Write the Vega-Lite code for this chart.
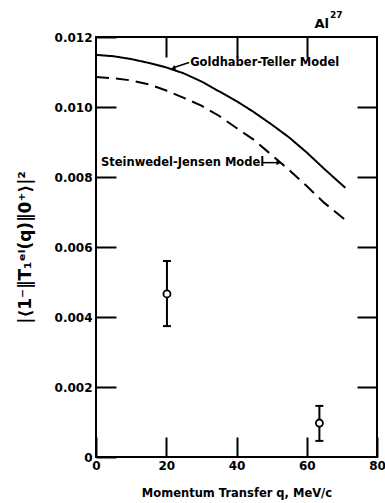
{
  "$schema": "https://vega.github.io/schema/vega-lite/v6.json",
  "width": 281,
  "height": 420,
  "autosize": "none",
  "padding": {"left": 96, "top": 37, "right": 8, "bottom": 46},
  "background": "white",
  "config": {
    "view": {"stroke": "black", "strokeWidth": 2},
    "font": "DejaVu Sans",
    "axis": {"grid": false, "domain": false}
  },
  "datasets": {
    "curves": [
      {"series": "Goldhaber-Teller Model", "q": 0, "v": 0.01149},
      {"series": "Goldhaber-Teller Model", "q": 5, "v": 0.01145},
      {"series": "Goldhaber-Teller Model", "q": 10, "v": 0.01137},
      {"series": "Goldhaber-Teller Model", "q": 15, "v": 0.01126},
      {"series": "Goldhaber-Teller Model", "q": 20, "v": 0.01113},
      {"series": "Goldhaber-Teller Model", "q": 25, "v": 0.01096},
      {"series": "Goldhaber-Teller Model", "q": 30, "v": 0.01073},
      {"series": "Goldhaber-Teller Model", "q": 35, "v": 0.01045},
      {"series": "Goldhaber-Teller Model", "q": 40, "v": 0.01017},
      {"series": "Goldhaber-Teller Model", "q": 45, "v": 0.00985},
      {"series": "Goldhaber-Teller Model", "q": 50, "v": 0.0095},
      {"series": "Goldhaber-Teller Model", "q": 55, "v": 0.00913},
      {"series": "Goldhaber-Teller Model", "q": 60, "v": 0.0087},
      {"series": "Goldhaber-Teller Model", "q": 65, "v": 0.00823},
      {"series": "Goldhaber-Teller Model", "q": 71, "v": 0.00769},
      {"series": "Steinwedel-Jensen Model", "q": 0, "v": 0.01086},
      {"series": "Steinwedel-Jensen Model", "q": 5, "v": 0.01082},
      {"series": "Steinwedel-Jensen Model", "q": 10, "v": 0.01076},
      {"series": "Steinwedel-Jensen Model", "q": 15, "v": 0.01065},
      {"series": "Steinwedel-Jensen Model", "q": 20, "v": 0.01047},
      {"series": "Steinwedel-Jensen Model", "q": 25, "v": 0.01026},
      {"series": "Steinwedel-Jensen Model", "q": 30, "v": 0.01004},
      {"series": "Steinwedel-Jensen Model", "q": 35, "v": 0.00975},
      {"series": "Steinwedel-Jensen Model", "q": 40, "v": 0.0094},
      {"series": "Steinwedel-Jensen Model", "q": 45, "v": 0.00906},
      {"series": "Steinwedel-Jensen Model", "q": 50, "v": 0.00863},
      {"series": "Steinwedel-Jensen Model", "q": 55, "v": 0.0082},
      {"series": "Steinwedel-Jensen Model", "q": 60, "v": 0.00774},
      {"series": "Steinwedel-Jensen Model", "q": 65, "v": 0.00726},
      {"series": "Steinwedel-Jensen Model", "q": 71, "v": 0.00677}
    ],
    "points": [
      {"q": 20.2, "v": 0.00466, "lo": 0.00374, "hi": 0.0056},
      {"q": 63.6, "v": 0.00097, "lo": 0.00046, "hi": 0.00146}
    ]
  },
  "layer": [
    {
      "data": {"name": "curves"},
      "mark": {"type": "line", "color": "black", "strokeWidth": 2},
      "encoding": {
        "x": {
          "field": "q", "type": "quantitative",
          "scale": {"domain": [0, 80], "nice": false},
          "axis": {
            "orient": "bottom",
            "values": [0, 20, 40, 60, 80],
            "ticks": true, "tickColor": "black", "tickSize": 20, "tickWidth": 2, "offset": -20,
            "labelColor": "black", "labelFontSize": 12, "labelFontWeight": "bold",
            "labelPadding": 3,
            "labelFlush": false,
            "title": "Momentum Transfer q, MeV/c",
            "titleColor": "black", "titleFontWeight": "bold",
            "titleFontSize": 11.5,
            "titlePadding": 16
          }
        },
        "y": {
          "field": "v", "type": "quantitative",
          "scale": {"domain": [0, 0.012], "nice": false},
          "axis": {
            "orient": "left",
            "values": [0, 0.002, 0.004, 0.006, 0.008, 0.01, 0.012],
            "ticks": true, "tickColor": "black", "tickSize": 20, "tickWidth": 2, "offset": -20,
            "labelExpr": "datum.value == 0 ? '0' : format(datum.value, '.3f')",
            "labelColor": "black", "labelFontSize": 12, "labelFontWeight": "bold",
            "labelPadding": 4,
            "labelFlush": false,
            "title": "|⟨1⁻‖T₁ᵉˡ(q)‖0⁺⟩|²",
            "titleColor": "black", "titleFontWeight": "bold",
            "titleFontSize": 17,
            "titlePadding": 20
          }
        },
        "strokeDash": {
          "field": "series", "type": "nominal",
          "scale": {"domain": ["Goldhaber-Teller Model", "Steinwedel-Jensen Model"], "range": [[1, 0], [13, 7]]},
          "legend": null
        }
      }
    },
    {
      "data": {"name": "points"},
      "mark": {"type": "rule", "color": "black", "strokeWidth": 2},
      "encoding": {
        "x": {
          "field": "q", "type": "quantitative",
          "axis": {"orient": "top", "values": [20, 40, 60], "labels": false, "title": null,
                   "ticks": true, "tickColor": "black", "tickSize": 20, "tickWidth": 2, "offset": -20}
        },
        "y": {
          "field": "lo", "type": "quantitative",
          "axis": {"orient": "right", "values": [0.002, 0.004, 0.006, 0.008, 0.01], "labels": false, "title": null,
                   "ticks": true, "tickColor": "black", "tickSize": 20, "tickWidth": 2, "offset": -20}
        },
        "y2": {"field": "hi"}
      }
    },
    {
      "data": {"name": "points"},
      "mark": {"type": "point", "shape": "stroke", "filled": false, "color": "black", "strokeWidth": 2, "size": 64, "opacity": 1},
      "encoding": {
        "x": {"field": "q", "type": "quantitative", "axis": null},
        "y": {"field": "lo", "type": "quantitative", "axis": null}
      }
    },
    {
      "data": {"name": "points"},
      "mark": {"type": "point", "shape": "stroke", "filled": false, "color": "black", "strokeWidth": 2, "size": 64, "opacity": 1},
      "encoding": {
        "x": {"field": "q", "type": "quantitative", "axis": null},
        "y": {"field": "hi", "type": "quantitative", "axis": null}
      }
    },
    {
      "data": {"name": "points"},
      "mark": {"type": "point", "shape": "circle", "filled": true, "fill": "white", "stroke": "black", "strokeWidth": 1.8, "size": 50, "opacity": 1},
      "encoding": {
        "x": {"field": "q", "type": "quantitative", "axis": null},
        "y": {"field": "v", "type": "quantitative", "axis": null}
      }
    },
    {
      "data": {"values": [
        {"label": "Goldhaber-Teller Model", "q": 26.8, "v": 0.01127},
        {"label": "Steinwedel-Jensen Model", "q": 1.4, "v": 0.00841}
      ]},
      "mark": {"type": "text", "align": "left", "baseline": "middle", "fontSize": 11.5, "fontWeight": "bold", "color": "black"},
      "encoding": {
        "x": {"field": "q", "type": "quantitative", "axis": null},
        "y": {"field": "v", "type": "quantitative", "axis": null},
        "text": {"field": "label"}
      }
    },
    {
      "data": {"values": [
        {"q": 26.5, "v": 0.01127, "q2": 22.2, "v2": 0.01113},
        {"q": 47.4, "v": 0.00841, "q2": 51.5, "v2": 0.00841}
      ]},
      "mark": {"type": "rule", "color": "black", "strokeWidth": 1.5},
      "encoding": {
        "x": {"field": "q", "type": "quantitative", "axis": null},
        "y": {"field": "v", "type": "quantitative", "axis": null},
        "x2": {"field": "q2"},
        "y2": {"field": "v2"}
      }
    },
    {
      "data": {"values": [
        {"q": 52.0, "v": 0.00841}
      ]},
      "mark": {"type": "point", "shape": "triangle-right", "filled": true, "color": "black", "size": 25, "opacity": 1},
      "encoding": {
        "x": {"field": "q", "type": "quantitative", "axis": null},
        "y": {"field": "v", "type": "quantitative", "axis": null}
      }
    },
    {
      "data": {"values": [
        {"q": 22.0, "v": 0.01111}
      ]},
      "mark": {"type": "point", "shape": "triangle-left", "angle": -20, "filled": true, "color": "black", "size": 25, "opacity": 1},
      "encoding": {
        "x": {"field": "q", "type": "quantitative", "axis": null},
        "y": {"field": "v", "type": "quantitative", "axis": null}
      }
    },
    {
      "data": {"values": [{"label": "Al", "q": 62.2, "v": 0.01226}]},
      "mark": {"type": "text", "align": "left", "baseline": "alphabetic", "fontSize": 13, "fontWeight": "bold", "color": "black"},
      "encoding": {
        "x": {"field": "q", "type": "quantitative", "axis": null},
        "y": {"field": "v", "type": "quantitative", "axis": null},
        "text": {"field": "label"}
      }
    },
    {
      "data": {"values": [{"label": "27", "q": 66.6, "v": 0.01254}]},
      "mark": {"type": "text", "align": "left", "baseline": "alphabetic", "fontSize": 9, "fontWeight": "bold", "color": "black"},
      "encoding": {
        "x": {"field": "q", "type": "quantitative", "axis": null},
        "y": {"field": "v", "type": "quantitative", "axis": null},
        "text": {"field": "label"}
      }
    }
  ],
  "resolve": {"axis": {"x": "independent", "y": "independent"}}
}
